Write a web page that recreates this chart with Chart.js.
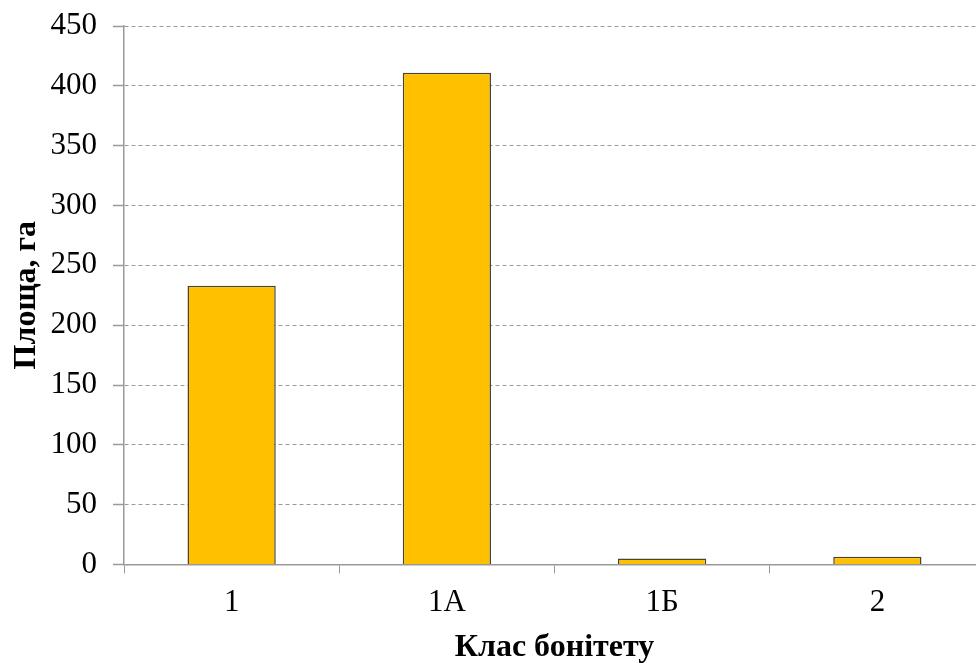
<!DOCTYPE html>
<html>
<head>
<meta charset="utf-8">
<script src="https://cdn.jsdelivr.net/npm/chart.js@4/dist/chart.umd.min.js"></script>
<style>
  html, body { margin: 0; padding: 0; background: #fff; overflow: hidden; }
  #wrap { position: relative; width: 990px; height: 663px; }
</style>
</head>
<body>
<div id="wrap"><canvas id="c"></canvas></div>
<script>
// Площа за класами бонітету
const categories = ['1', '1А', '1Б', '2'];
const areaHa = [233, 411, 5, 6.5];
const yTicks = [0, 50, 100, 150, 200, 250, 300, 350, 400, 450];

const serif = '"Liberation Serif", "Times New Roman", serif';
const axisGray = '#9a9a9a';

new Chart(document.getElementById('c'), {
  type: 'bar',
  data: {
    labels: categories,
    datasets: [{
      data: areaHa,
      backgroundColor: '#FFC000',
      borderColor: '#4a4430',
      borderWidth: 1.5,
      borderSkipped: 'bottom',
      categoryPercentage: 1,
      barPercentage: 0.41
    }]
  },
  options: {
    responsive: true,
    maintainAspectRatio: false,
    animation: false,
    layout: { padding: { top: 26, right: 5, bottom: 0, left: 0 } },
    plugins: { legend: { display: false }, tooltip: { enabled: false } },
    scales: {
      x: {
        grid: {
          display: true,
          drawOnChartArea: false,
          offset: true,
          tickLength: 9,
          color: axisGray,
          tickColor: axisGray
        },
        border: { display: true, color: axisGray, width: 1.5 },
        ticks: {
          color: '#000',
          font: { family: serif, size: 31 },
          padding: 11
        },
        title: {
          display: true,
          text: 'Клас бонітету',
          color: '#000',
          font: { family: serif, size: 32, weight: 'bold' },
          padding: { top: 0, bottom: -4 }
        },
        afterFit(scale) { scale.height = 98.5; }
      },
      y: {
        min: 0,
        max: 450,
        afterBuildTicks(scale) { scale.ticks = yTicks.map(v => ({ value: v })); },
        grid: {
          color: axisGray,
          lineWidth: 1,
          tickLength: 11,
          tickColor: axisGray,
          tickWidth: 1.5
        },
        border: { display: true, color: axisGray, width: 1.5, dash: [4, 3] },
        ticks: {
          color: '#000',
          font: { family: serif, size: 31 },
          padding: 16
        },
        title: {
          display: true,
          text: 'Площа, га',
          color: '#000',
          font: { family: serif, size: 32, weight: 'bold' },
          padding: { top: 8, bottom: 0 }
        },
        afterFit(scale) {
          scale.width = 124;
          scale.paddingTop = 0;
          scale.paddingBottom = 0;
        }
      }
    }
  }
});
</script>
</body>
</html>
